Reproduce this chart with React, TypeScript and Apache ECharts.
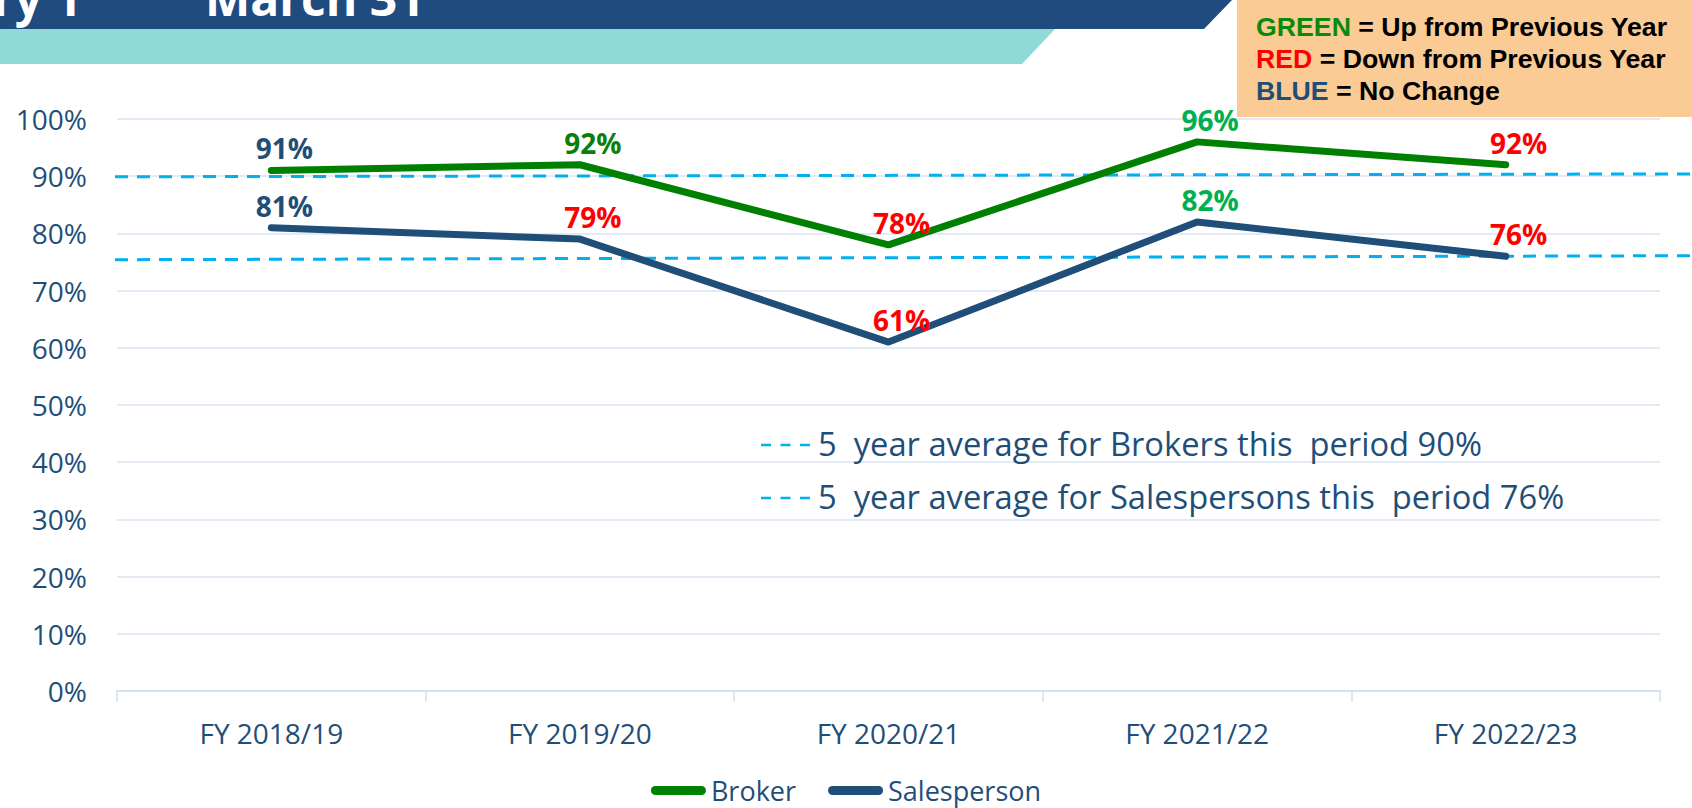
import React, { useEffect, useRef } from "react";
import * as echarts from "echarts";

const categories = ["FY 2018/19", "FY 2019/20", "FY 2020/21", "FY 2021/22", "FY 2022/23"];
const brokerValues = [91, 92, 78, 96, 92];
const salespersonValues = [81, 79, 61, 82, 76];
const brokerLabelColors = ["#1F4E79", "#0A7F0A", "#FF0000", "#00B050", "#FF0000"];
const salespersonLabelColors = ["#1F4E79", "#FF0000", "#FF0000", "#00B050", "#FF0000"];
// five-year average reference lines (start, end)
const brokerAverageLine = [89.9, 90.4];
const salespersonAverageLine = [75.4, 76.1];
const yMin = 0;
const yMax = 100;
const yInterval = 10;
const legendNames = ["Broker", "Salesperson"];
const noteLines = [
  "5  year average for Brokers this  period 90%",
  "5  year average for Salespersons this  period 76%",
];
const keyLines = [
  { word: "GREEN", color: "#0A8A0A", rest: " = Up from Previous Year" },
  { word: "RED", color: "#FF0000", rest: " = Down from Previous Year" },
  { word: "BLUE", color: "#1F4E79", rest: " = No Change" },
];

const NAVY = "#1F4E79";
const GREEN = "#008000";
const FONT = '"Open Sans", "Noto Sans", sans-serif';
const PILL = "path://M4.5,0 H50.5 A4.5,4.5 0 0 1 50.5,9 H4.5 A4.5,4.5 0 0 1 4.5,0 Z";

export default function App() {
  const ref = useRef<HTMLDivElement>(null);

  useEffect(() => {
    document.body.style.margin = "0";
    if (!ref.current) return;
    const chart = echarts.init(ref.current, undefined, { renderer: "svg" });

    const labelled = (vals: number[], colors: string[]) =>
      vals.map((v, i) => ({
        value: v,
        label: { color: colors[i] },
      }));

    const avgData = (pair: number[]) => [
      [0, pair[0]],
      [1, pair[1]],
    ];

    const option: any = {
      animation: false,
      textStyle: { fontFamily: FONT },
      grid: [
        { left: 117, right: 32, top: 119, bottom: 117 },
        { left: 115, right: 0, top: 119, bottom: 117 },
      ],
      xAxis: [
        {
          type: "category",
          gridIndex: 0,
          data: categories,
          axisLine: { lineStyle: { color: "#D6E1F2", width: 2 } },
          axisTick: { show: true, length: 11, lineStyle: { color: "#D6E1F2", width: 1.5 } },
          axisLabel: { color: NAVY, fontSize: 28, margin: 28, fontFamily: FONT },
          splitLine: { show: false },
        },
        { type: "value", gridIndex: 1, min: 0, max: 1, show: false },
      ],
      yAxis: [
        {
          type: "value",
          gridIndex: 0,
          min: yMin,
          max: yMax,
          interval: yInterval,
          axisLine: { show: false },
          axisTick: { show: false },
          axisLabel: { formatter: "{value}%", color: NAVY, fontSize: 28, margin: 30, fontFamily: FONT },
          splitLine: { lineStyle: { color: "#D9E3F3", width: 1.5 } },
        },
        { type: "value", gridIndex: 1, min: yMin, max: yMax, show: false },
      ],
      legend: {
        data: legendNames,
        top: 772,
        left: "center",
        itemWidth: 55,
        itemHeight: 9,
        itemGap: 32,
        icon: PILL,
        textStyle: { color: NAVY, fontSize: 27, fontFamily: FONT },
      },
      series: [
        {
          name: "Broker avg",
          type: "line",
          xAxisIndex: 1,
          yAxisIndex: 1,
          data: avgData(brokerAverageLine),
          symbol: "none",
          silent: true,
          z: 1,
          lineStyle: { color: "#00B0F0", width: 3, type: [13, 9] },
        },
        {
          name: "Salesperson avg",
          type: "line",
          xAxisIndex: 1,
          yAxisIndex: 1,
          data: avgData(salespersonAverageLine),
          symbol: "none",
          silent: true,
          z: 1,
          lineStyle: { color: "#00B0F0", width: 3, type: [13, 9] },
        },
        {
          name: "Broker",
          type: "line",
          data: labelled(brokerValues, brokerLabelColors),
          symbol: "circle",
          symbolSize: 2,
          z: 3,
          itemStyle: { color: GREEN },
          lineStyle: { color: GREEN, width: 7, cap: "round", join: "round" },
          label: {
            show: true,
            position: "top",
            distance: 7,
            offset: [13, 0],
            formatter: "{c}%",
            fontSize: 28,
            fontWeight: "bold",
            fontFamily: FONT,
          },
        },
        {
          name: "Salesperson",
          type: "line",
          data: labelled(salespersonValues, salespersonLabelColors),
          symbol: "circle",
          symbolSize: 2,
          z: 3,
          itemStyle: { color: NAVY },
          lineStyle: { color: NAVY, width: 7, cap: "round", join: "round" },
          label: {
            show: true,
            position: "top",
            distance: 7,
            offset: [13, 0],
            formatter: "{c}%",
            fontSize: 28,
            fontWeight: "bold",
            fontFamily: FONT,
          },
        },
      ],
      graphic: [
        {
          type: "polygon",
          z: 90,
          shape: { points: [[0, 0], [1232, 0], [1204, 29], [0, 29]] },
          style: { fill: "#1F4B7F" },
        },
        {
          type: "polygon",
          z: 90,
          shape: { points: [[0, 29], [1055, 29], [1022, 64], [0, 64]] },
          style: { fill: "#8FDAD6" },
        },
        {
          type: "text",
          z: 91,
          x: 82,
          y: -3,
          style: {
            text: "January 1",
            fill: "#FFFFFF",
            font: `bold 48px ${FONT}`,
            align: "right",
            verticalAlign: "middle",
          },
        },
        {
          type: "text",
          z: 91,
          x: 205,
          y: -3,
          style: {
            text: "March 31",
            fill: "#FFFFFF",
            font: `bold 48px ${FONT}`,
            align: "left",
            verticalAlign: "middle",
          },
        },
        {
          type: "rect",
          z: 100,
          shape: { x: 1237, y: 0, width: 455, height: 117 },
          style: { fill: "#FACB94" },
        },
        ...keyLines.map((k, i) => ({
          type: "text",
          z: 101,
          x: 1256,
          y: 27 + i * 32,
          style: {
            text: `{w|${k.word}}{r|${k.rest}}`,
            verticalAlign: "middle",
            align: "left",
            rich: {
              w: { fill: k.color, color: k.color, font: 'bold 26.7px "Liberation Sans", Arial, sans-serif' },
              r: { fill: "#000000", color: "#000000", font: 'bold 26.7px "Liberation Sans", Arial, sans-serif' },
            },
          },
        })),
        ...noteLines.map((t, i) => ({
          type: "group",
          z: 50,
          children: [
            {
              type: "line",
              z: 50,
              shape: { x1: 761, y1: 445 + i * 53, x2: 810, y2: 445 + i * 53 },
              style: { stroke: "#00B0F0", lineWidth: 2.5, lineDash: [10, 9.5] },
            },
            {
              type: "text",
              z: 50,
              x: 818,
              y: 443 + i * 53,
              style: {
                text: t,
                fill: NAVY,
                font: `32.7px ${FONT}`,
                align: "left",
                verticalAlign: "middle",
              },
            },
          ],
        })),
      ],
    };

    chart.setOption(option);
    return () => chart.dispose();
  }, []);

  return <div ref={ref} style={{ width: 1692, height: 808 }} />;
}
